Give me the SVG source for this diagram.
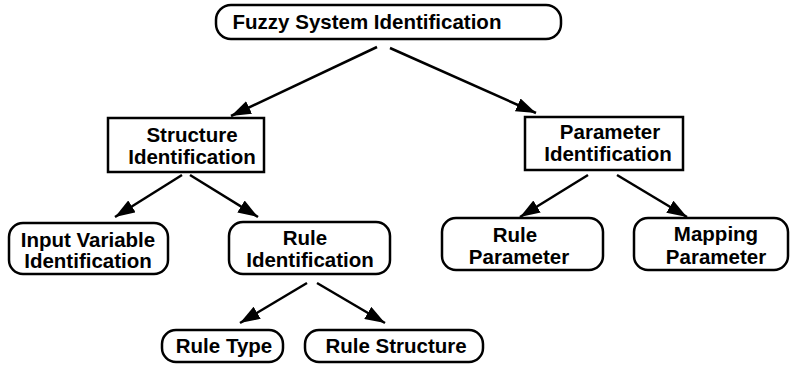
<svg xmlns="http://www.w3.org/2000/svg" width="790" height="366" viewBox="0 0 790 366">
  <style>
    .box { fill: #fff; stroke: #000; stroke-width: 2.5; }
    .lbl { font-family: "Liberation Sans", Arial, sans-serif; font-weight: bold; font-size: 20.5px; fill: #000; text-anchor: middle; }
    .edge { stroke: #000; stroke-width: 2.5; fill: none; marker-end: url(#arrow); }
  </style>
  <defs>
    <marker id="arrow" markerUnits="userSpaceOnUse" markerWidth="22" markerHeight="14" refX="20" refY="7" orient="auto">
      <path d="M0,0 L20,7 L0,14 Z" fill="#000"/>
    </marker>
  </defs>
  <rect width="790" height="366" fill="#fff"/>

  <!-- connectors -->
  <g id="connectors">
    <line class="edge" x1="377" y1="47" x2="231" y2="116"/>
    <line class="edge" x1="390" y1="48" x2="536" y2="113"/>
    <line class="edge" x1="182" y1="175" x2="115" y2="217"/>
    <line class="edge" x1="190" y1="175" x2="258" y2="217"/>
    <line class="edge" x1="588" y1="175" x2="520" y2="217"/>
    <line class="edge" x1="617" y1="175" x2="687" y2="217"/>
    <line class="edge" x1="307" y1="283" x2="240" y2="323"/>
    <line class="edge" x1="317" y1="283" x2="385" y2="323"/>
  </g>

  <g id="fuzzy-system-identification">
    <rect class="box" x="216" y="5" width="345" height="34" rx="15"/>
    <text class="lbl" x="367" y="29">Fuzzy System Identification</text>
  </g>

  <g id="structure-identification">
    <rect class="box" x="108" y="118" width="156" height="54"/>
    <text class="lbl" x="192" y="142">Structure</text>
    <text class="lbl" x="192" y="164">Identification</text>
  </g>

  <g id="parameter-identification">
    <rect class="box" x="525" y="117" width="158" height="53"/>
    <text class="lbl" x="610" y="139">Parameter</text>
    <text class="lbl" x="608" y="161">Identification</text>
  </g>

  <g id="input-variable-identification">
    <rect class="box" x="9" y="223" width="159" height="51" rx="14"/>
    <text class="lbl" x="88" y="247">Input Variable</text>
    <text class="lbl" x="88" y="268">Identification</text>
  </g>

  <g id="rule-identification">
    <rect class="box" x="229" y="222" width="161" height="52" rx="14"/>
    <text class="lbl" x="305" y="245">Rule</text>
    <text class="lbl" x="310" y="267">Identification</text>
  </g>

  <g id="rule-parameter">
    <rect class="box" x="442" y="218" width="161" height="52" rx="14"/>
    <text class="lbl" x="515" y="242">Rule</text>
    <text class="lbl" x="519" y="264">Parameter</text>
  </g>

  <g id="mapping-parameter">
    <rect class="box" x="634" y="218" width="154" height="52" rx="14"/>
    <text class="lbl" x="716" y="241">Mapping</text>
    <text class="lbl" x="716" y="264">Parameter</text>
  </g>

  <g id="rule-type">
    <rect class="box" x="162" y="330" width="121" height="32" rx="14"/>
    <text class="lbl" x="224" y="353">Rule Type</text>
  </g>

  <g id="rule-structure">
    <rect class="box" x="305" y="330" width="178" height="32" rx="14"/>
    <text class="lbl" x="396" y="353">Rule Structure</text>
  </g>
</svg>
